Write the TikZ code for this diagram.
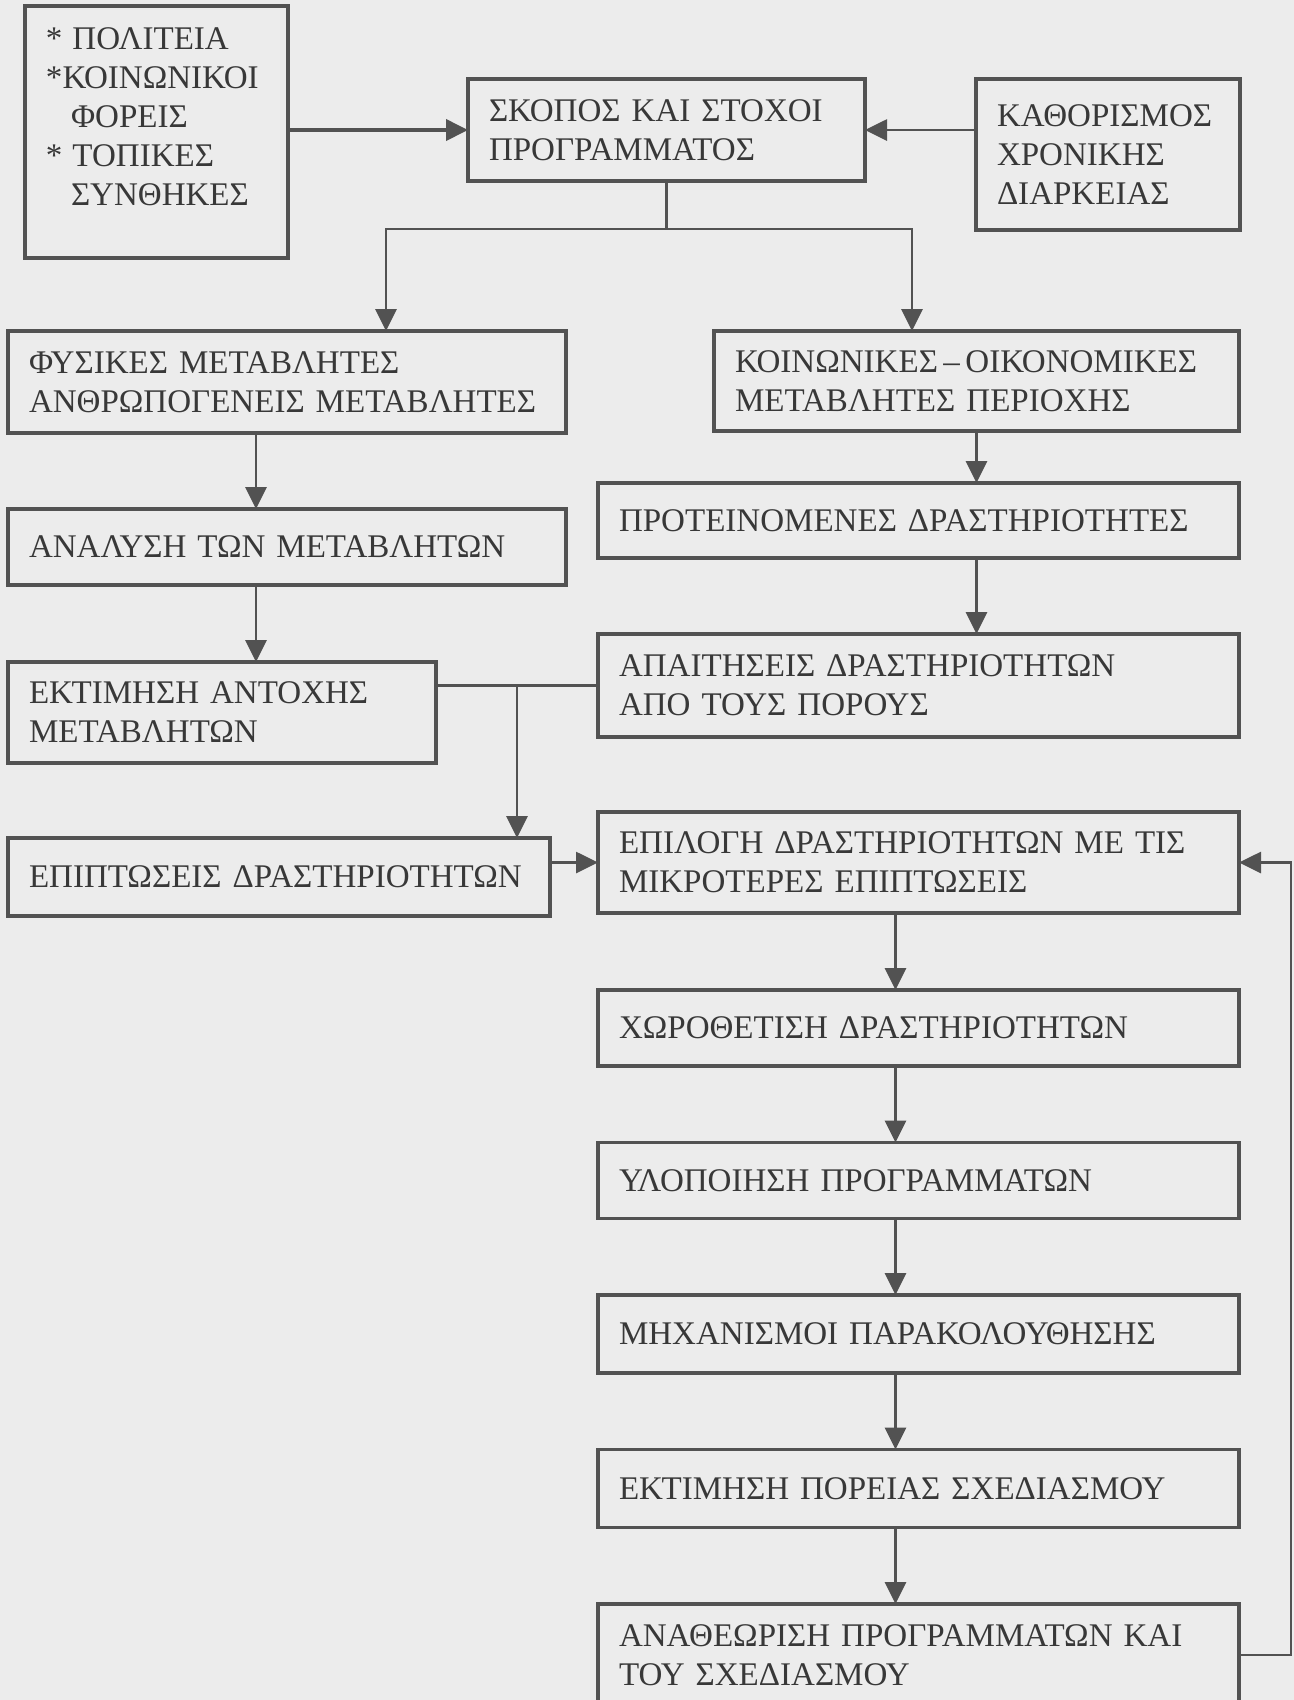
\documentclass[tikz,border=0pt]{standalone}
\usepackage{fontspec}
\setmainfont{Liberation Serif}
\usetikzlibrary{positioning}
\usetikzlibrary{arrows.meta}
\definecolor{paper}{gray}{0.925}
\definecolor{ink}{gray}{0.22}
\definecolor{rule}{gray}{0.32}
\newcommand\widegaps{\spaceskip=0.65em plus 0.1em\relax}

\begin{document}
\begin{tikzpicture}[x=1mm,y=1mm,node distance=7.6mm,
	>={Triangle[length=2.2mm,width=2.1mm]},
	box/.style={rectangle,draw=rule,line width=0.9pt,text=ink,align=left,
		inner xsep=2.1mm,inner ysep=0pt,outer sep=0pt,
		font=\fontsize{9.4}{11.1}\selectfont\widegaps},
	link/.style={draw=rule,line width=0.8pt}]
	\fill[paper] (0,0) rectangle (129.4,-170);
	\useasboundingbox (0,0) rectangle (129.4,-170);

	\node[box,text width=22.1mm,minimum height=25.2mm,anchor=north west] (actors) at (2.5,-0.6)
		{{*}\hspace{1mm}ΠΟΛΙΤΕΙΑ\\{*}ΚΟΙΝΩΝΙΚΟΙ\\\hspace*{2.5mm}ΦΟΡΕΙΣ\\{*}\hspace{1mm}ΤΟΠΙΚΕΣ\\\hspace*{2.5mm}ΣΥΝΘΗΚΕΣ\\[-0.9mm]\mbox{}};
	\node[box,text width=35.5mm,minimum height=10.2mm,anchor=north west] (goals) at (46.8,-7.9)
		{ΣΚΟΠΟΣ ΚΑΙ ΣΤΟΧΟΙ\\ΠΡΟΓΡΑΜΜΑΤΟΣ};
	\node[box,text width=22.2mm,minimum height=15.1mm,anchor=north west] (duration) at (97.6,-7.9)
		{ΚΑΘΟΡΙΣΜΟΣ\\ΧΡΟΝΙΚΗΣ\\ΔΙΑΡΚΕΙΑΣ};

	\node[box,text width=51.6mm,minimum height=10.2mm,anchor=north west] (physvars) at (0.8,-33.1)
		{ΦΥΣΙΚΕΣ ΜΕΤΑΒΛΗΤΕΣ\\ΑΝΘΡΩΠΟΓΕΝΕΙΣ ΜΕΤΑΒΛΗΤΕΣ};
	\node[box,text width=51.6mm,minimum height=7.6mm] (analysis) [below=of physvars]
		{ΑΝΑΛΥΣΗ ΤΩΝ ΜΕΤΑΒΛΗΤΩΝ};
	\node[box,text width=38.6mm,minimum height=10.1mm] (tolerance) [below=7.7mm of analysis.south west,anchor=north west]
		{ΕΚΤΙΜΗΣΗ ΑΝΤΟΧΗΣ\\ΜΕΤΑΒΛΗΤΩΝ};
	\node[box,text width=50.0mm,minimum height=7.8mm] (impacts) [below=7.5mm of tolerance.south west,anchor=north west]
		{ΕΠΙΠΤΩΣΕΙΣ ΔΡΑΣΤΗΡΙΟΤΗΤΩΝ};

	\node[box,text width=48.3mm,minimum height=10mm,anchor=north west] (socvars) at (71.4,-33.1)
		{ΚΟΙΝΩΝΙΚΕΣ\,–\,ΟΙΚΟΝΟΜΙΚΕΣ\\ΜΕΤΑΒΛΗΤΕΣ ΠΕΡΙΟΧΗΣ};
	\node[box,text width=59.9mm,minimum height=7.5mm] (proposed) [below=5.2mm of socvars.south east,anchor=north east]
		{ΠΡΟΤΕΙΝΟΜΕΝΕΣ ΔΡΑΣΤΗΡΙΟΤΗΤΕΣ};
	\node[box,text width=59.9mm,minimum height=10.3mm] (demands) [below=of proposed]
		{ΑΠΑΙΤΗΣΕΙΣ ΔΡΑΣΤΗΡΙΟΤΗΤΩΝ\\ΑΠΟ ΤΟΥΣ ΠΟΡΟΥΣ};
	\node[box,text width=59.9mm,minimum height=10.1mm] (selection) [below=7.5mm of demands]
		{ΕΠΙΛΟΓΗ ΔΡΑΣΤΗΡΙΟΤΗΤΩΝ ΜΕ ΤΙΣ\\ΜΙΚΡΟΤΕΡΕΣ ΕΠΙΠΤΩΣΕΙΣ};
	\node[box,text width=59.9mm,minimum height=7.6mm] (siting) [below=7.7mm of selection]
		{ΧΩΡΟΘΕΤΙΣΗ ΔΡΑΣΤΗΡΙΟΤΗΤΩΝ};
	\node[box,text width=59.9mm,minimum height=7.6mm] (implement) [below=7.65mm of siting]
		{ΥΛΟΠΟΙΗΣΗ ΠΡΟΓΡΑΜΜΑΤΩΝ};
	\node[box,text width=59.9mm,minimum height=7.8mm] (monitor) [below=7.65mm of implement]
		{ΜΗΧΑΝΙΣΜΟΙ ΠΑΡΑΚΟΛΟΥΘΗΣΗΣ};
	\node[box,text width=59.9mm,minimum height=7.8mm] (assess) [below=7.65mm of monitor]
		{ΕΚΤΙΜΗΣΗ ΠΟΡΕΙΑΣ ΣΧΕΔΙΑΣΜΟΥ};
	\node[box,text width=59.9mm,minimum height=10.2mm] (revision) [below=7.65mm of assess]
		{ΑΝΑΘΕΩΡΙΣΗ ΠΡΟΓΡΑΜΜΑΤΩΝ ΚΑΙ\\ΤΟΥ ΣΧΕΔΙΑΣΜΟΥ};

	\draw[link,->,line width=1.1pt] (actors.east |- goals.west) -- (goals.west);
	\draw[link,->] (duration.west |- goals.east) -- (goals.east);
	\draw[link] (goals.south) -- ++(0,-4.8) coordinate (fork);
	\draw[link,->] (fork) -| ([xshift=37.8mm]physvars.north west);
	\draw[link,->] (fork) -| ([xshift=19.8mm]socvars.north west);

	\foreach \from/\to in {physvars/analysis,analysis/tolerance}
		\draw[link,->] ([xshift=-3.1mm]\from.south) -- ([xshift=-3.1mm]\from.south |- \to.north);
	\draw[link,->] (socvars.south) -- (socvars.south |- proposed.north);
	\draw[link,->] (socvars.south |- proposed.south) -- (socvars.south |- demands.north);

	\draw[link] (demands.west) -- (demands.west -| tolerance.east);
	\coordinate (drop) at ([xshift=-8.1mm]demands.west);
	\draw[link,->] (drop) -- (drop |- impacts.north);
	\draw[link,->] (impacts.east |- selection.west) -- (selection.west);

	\foreach \from/\to in {selection/siting,siting/implement,implement/monitor,monitor/assess,assess/revision}
		\draw[link,->] ([xshift=-2.3mm]\from.south) -- ([xshift=-2.3mm]\from.south |- \to.north);
	\draw[link,->] (revision.east) -- ++(5.2,0) |- (selection.east);
\end{tikzpicture}
\end{document}
